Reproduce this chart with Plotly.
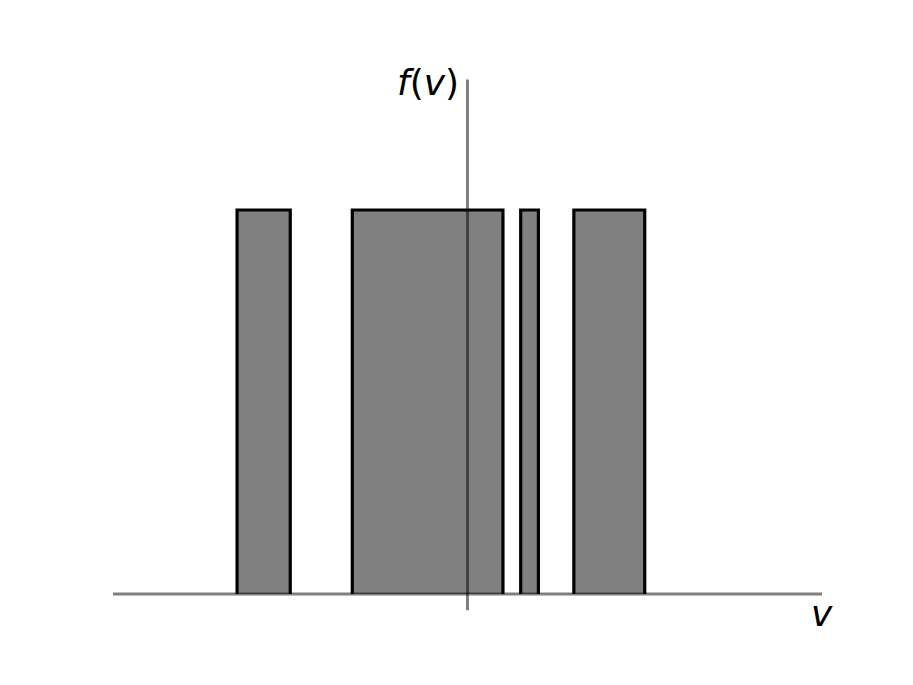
import plotly.graph_objects as go

# bar edges (left, right) on the v axis, all bars have height 1
LEFT = [-1.3, -0.65, 0.3, 0.6]
RIGHT = [-1.0, 0.2, 0.4, 1.0]
HEIGHT = [1, 1, 1, 1]

X_AXIS = [-2.0, 2.0]
Y_AXIS = [-0.042, 1.34]

FILL = "#808080"
AXIS = "rgba(0,0,0,0.5)"

fig = go.Figure()

for x0, x1, h in zip(LEFT, RIGHT, HEIGHT):
    fig.add_trace(go.Scatter(
        x=[x0, x0, x1, x1, x0], y=[0, h, h, 0, 0], mode="none",
        fill="toself", fillcolor=FILL, hoverinfo="skip", showlegend=False,
    ))
    fig.add_trace(go.Scatter(
        x=[x0, x0, x1, x1], y=[0, h, h, 0], mode="lines",
        line=dict(color="black", width=3.2), hoverinfo="skip", showlegend=False,
    ))

# axes drawn through the origin
fig.add_trace(go.Scatter(x=X_AXIS, y=[0, 0], mode="lines",
                         line=dict(color=AXIS, width=3), showlegend=False, hoverinfo="skip"))
fig.add_trace(go.Scatter(x=[0, 0], y=Y_AXIS, mode="lines",
                         line=dict(color=AXIS, width=3), showlegend=False, hoverinfo="skip"))

fig.add_annotation(x=-0.036, y=1.333, text="<i>f</i>(<i>v</i>)", showarrow=False,
                   xanchor="right", yanchor="middle",
                   font=dict(family="DejaVu Sans", size=36, color="black"))
fig.add_annotation(x=2.0, y=-0.052, text="<i>v</i>", showarrow=False,
                   xanchor="center", yanchor="middle",
                   font=dict(family="DejaVu Sans", size=36, color="black"))

# ranges offset by the 8px page margin so the marks land where the reference has them
fig.update_layout(
    width=913, height=685,
    margin=dict(l=0, r=0, t=0, b=0),
    paper_bgcolor="white", plot_bgcolor="white",
    xaxis=dict(range=[-2.5924, 2.5585], visible=False, fixedrange=True),
    yaxis=dict(range=[-0.2578, 1.5260], visible=False, fixedrange=True),
)

fig.write_html("out.html")
